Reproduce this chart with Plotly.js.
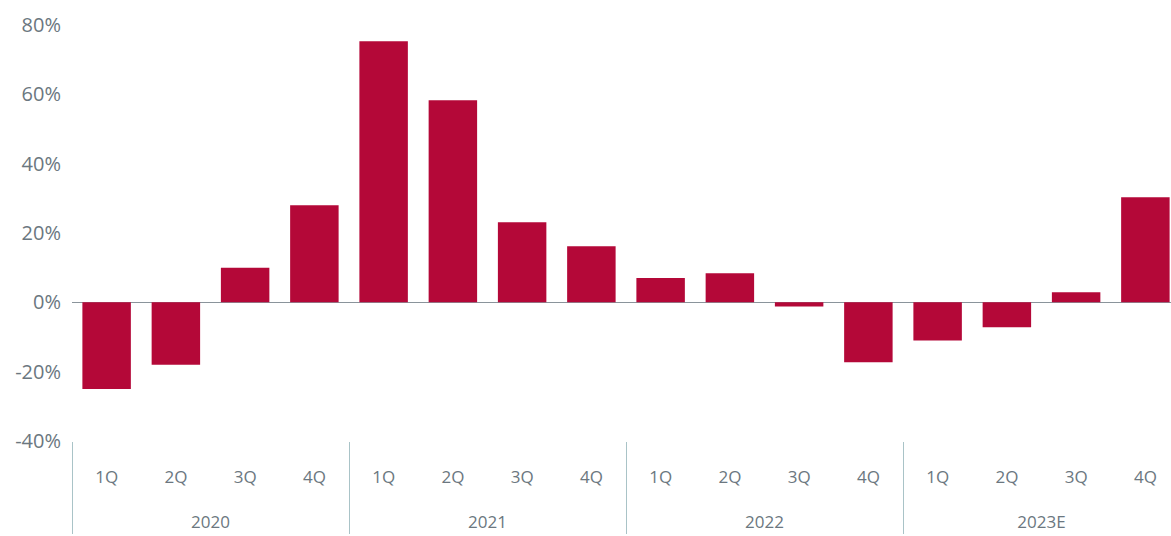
<!DOCTYPE html>
<html>
<head>
<meta charset="utf-8">
<script src="https://cdn.plot.ly/plotly-3.0.1.min.js"></script>
<style>html,body{margin:0;padding:0;background:#fff;}#chart{width:1171px;height:536px;}</style>
</head>
<body>
<div id="chart"></div>
<script>
const years = ["2020","2020","2020","2020","2021","2021","2021","2021","2022","2022","2022","2022","2023E","2023E","2023E","2023E"];
const quarters = ["1Q","2Q","3Q","4Q","1Q","2Q","3Q","4Q","1Q","2Q","3Q","4Q","1Q","2Q","3Q","4Q"];
const values = [-25, -18, 10, 28, 75.3, 58.3, 23.1, 16.2, 7, 8.4, -1.2, -17.3, -11, -7.2, 2.9, 30.3];
const yTicks = [-40, -20, 0, 20, 40, 60, 80];
const yTickText = yTicks.map(v => v + "%");

const textColor = "#6b7780";
// blank lines under each quarter label to open the gap to the year row
const quarterLabels = quarters.map(q => q + "<br> <br> ");
Plotly.newPlot("chart", [{
  type: "bar",
  x: [years, quarterLabels],
  y: values,
  marker: {color: "#b40838"},
  hoverinfo: "skip"
}], {
  width: 1171, height: 536,
  margin: {l: 72, r: 0, t: 25, b: 95, pad: 0},
  bargap: 0.3,
  showlegend: false,
  paper_bgcolor: "#fff", plot_bgcolor: "#fff",
  font: {family: "Open Sans, sans-serif", size: 17, color: textColor},
  xaxis: {
    type: "multicategory", automargin: false,
    range: [-0.5, 15.37],
    showgrid: false, zeroline: false, showline: false,
    ticks: "", ticklabelstandoff: 24,
    showdividers: true, dividercolor: "#a9c3c7", dividerwidth: 1,
    tickfont: {size: 17, color: textColor}
  },
  yaxis: {
    range: [-40, 80], automargin: false,
    tickvals: yTicks, ticktext: yTickText,
    showgrid: false, zeroline: true, zerolinecolor: "#8a949b", zerolinewidth: 1.5,
    showline: false, ticks: "", ticklabelstandoff: 10,
    tickfont: {size: 20, color: textColor}
  }
}, {displayModeBar: false, staticPlot: true});
</script>
</body>
</html>
